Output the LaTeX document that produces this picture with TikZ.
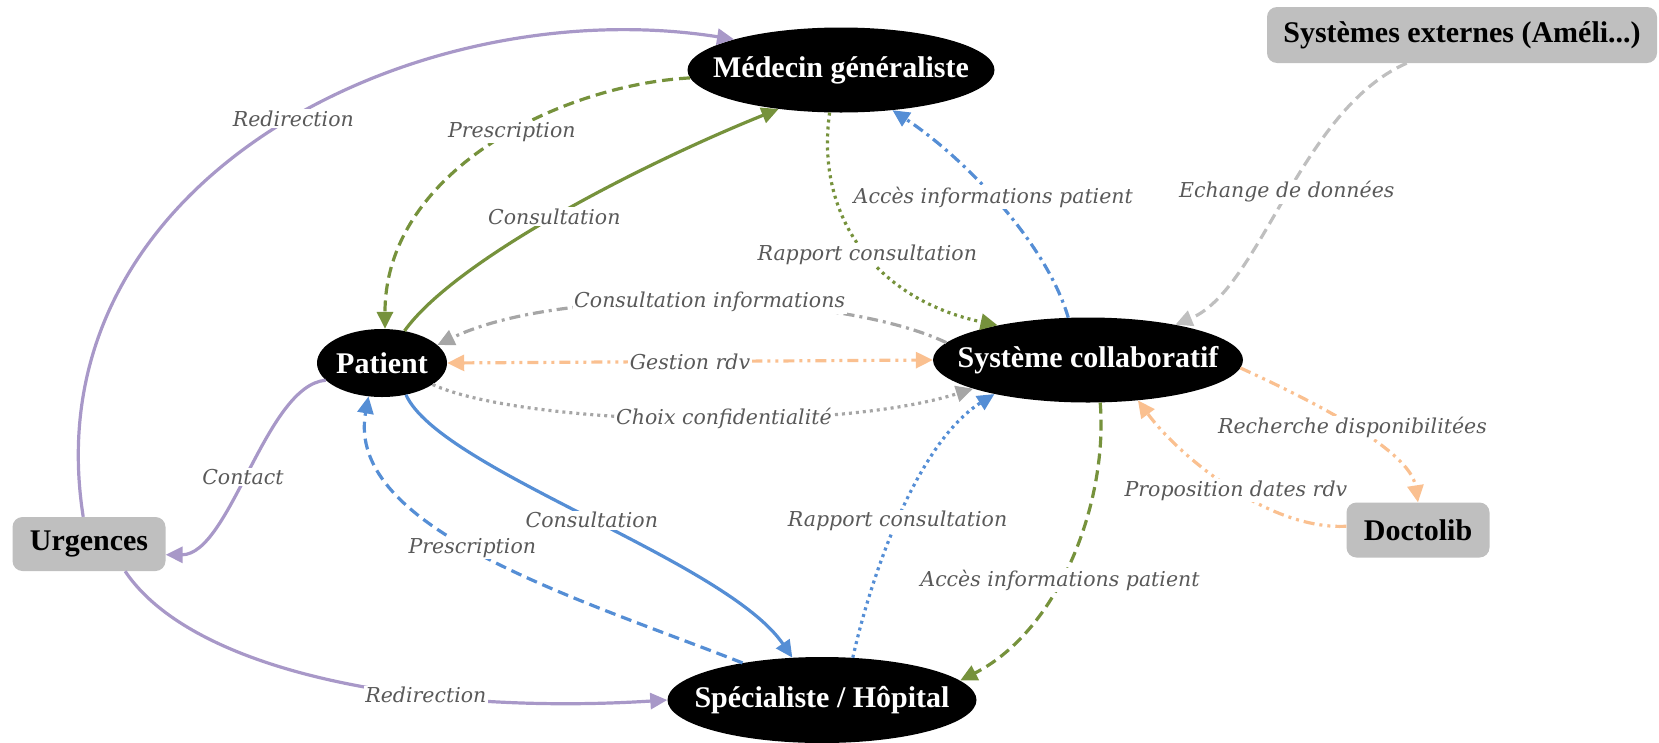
\documentclass[tikz,border=0pt]{standalone}
\usepackage{fontspec}
\setmainfont{Liberation Serif}
\newfontfamily\linkfont{DejaVu Serif}
\usetikzlibrary{arrows.meta, shapes.geometric}

\definecolor{linkpurple}{RGB}{168,152,200}
\definecolor{linkgreen}{RGB}{118,146,60}
\definecolor{linkblue}{RGB}{85,142,213}
\definecolor{linkgray}{RGB}{166,166,166}
\definecolor{linklight}{RGB}{191,191,191}
\definecolor{linkorange}{RGB}{250,192,144}
\definecolor{boxgray}{RGB}{191,191,191}
\definecolor{textgray}{RGB}{89,89,89}

% text of an oval node, kept out of the oval size
\newcommand{\OvalText}[1]{\makebox[0pt]{#1}}

\tikzset{
	mainnode/.style={ellipse, fill=black, text=white, inner sep=0pt, minimum width=#1, minimum height=85pt, font=\fontsize{30}{30}\selectfont\bfseries},
	sidenode/.style={rectangle, rounded corners=10pt, fill=boxgray, text=black, inner sep=0pt, minimum width=#1, minimum height=55pt, font=\fontsize{30}{30}\selectfont\bfseries},
	linklabel/.style={fill=white, text=textgray, inner sep=1.5pt, font=\linkfont\itshape\fontsize{20.5}{20.5}\selectfont},
	link/.style={line width=3.2pt, -{Triangle[length=17pt,width=16pt]}},
	dashline/.style={dash pattern=on 11pt off 6pt},
	dotline/.style={dash pattern=on 3pt off 4pt},
	dashdotline/.style={dash pattern=on 11pt off 5pt on 3pt off 5pt},
	dashdotdotline/.style={dash pattern=on 11pt off 5pt on 3pt off 5pt on 3pt off 5pt},
}

\begin{document}
\begin{tikzpicture}[x=1pt, y=-1pt]
\useasboundingbox (0,0) rectangle (1659,742);

% Draw nodes
\node[mainnode=307pt] (medecin) at (841,70) {\OvalText{Médecin généraliste}};
\node[mainnode=130pt, minimum height=68pt] (patient) at (382,363) {\OvalText{Patient}};
\node[mainnode=310pt] (syscol) at (1088,360) {\OvalText{Système collaboratif}};
\node[mainnode=309pt, minimum height=86pt] (specialiste) at (822,700) {\OvalText{Spécialiste / Hôpital}};
\node[sidenode=390pt, minimum height=56pt] (externes) at (1462,35) {Systèmes externes (Améli...)};
\node[sidenode=143pt] (doctolib) at (1418,530) {Doctolib};
\node[sidenode=153pt, minimum height=54pt] (urgences) at (89,544) {Urgences};

% Urgences links
\draw[link, linkpurple] (urgences.102) .. controls +(-53,-337) and +(-318,-50) .. (medecin.164) node[linklabel, pos=0.53]{Redirection};
\draw[link, linkpurple] (urgences.323) .. controls +(70,104) and +(-237.5,15) .. (specialiste.west) node[linklabel, pos=0.65]{Redirection};
\draw[link, linkpurple] (patient.197) .. controls +(-60,5) and +(64.5,0) .. (urgences.352) node[linklabel, pos=0.53]{Contact};

% Medecin links
\draw[link, linkgreen, dashline] (medecin.183) .. controls +(-128,7) and +(0,-159) .. (patient.85) node[linklabel, pos=0.44]{Prescription};
\draw[link, linkgreen] (patient.55) .. controls +(51,-71) and +(-139,56) .. (medecin.212) node[linklabel, pos=0.49]{Consultation};
\draw[link, linkgreen, dotline] (medecin.255) .. controls +(-15,108) and +(-118,-25) .. (syscol.159) node[linklabel, pos=0.52]{Rapport consultation};
\draw[link, linkblue, dashdotline] (syscol.115) .. controls +(-23,-78) and +(68,45) .. (medecin.322) node[linklabel, pos=0.52]{Accès informations patient};

% Systeme links
\draw[link, linklight, dashline] (externes.207) .. controls +(-107,47) and +(85,-35) .. (syscol.22) node[linklabel, pos=0.48]{Echange de données};
\draw[link, linkgray, dashdotline] (syscol.173) .. controls +(-107,-51) and +(123,-60) .. (patient.18) node[linklabel, pos=0.48]{Consultation informations};
\draw[link, linkorange, dashdotdotline, {Triangle[length=17pt,width=16pt]}-{Triangle[length=17pt,width=16pt]}] (patient.east) -- (syscol.west) node[linklabel, pos=0.5]{Gestion rdv};
\draw[link, linkgray, dotline] (patient.337) .. controls +(87,40) and +(-142,45) .. (syscol.194) node[linklabel, pos=0.565]{Choix confidentialité};

% Specialiste links
\draw[link, linkblue] (patient.307) .. controls +(34,75) and +(-67,-98) .. (specialiste.125) node[linklabel, pos=0.51]{Consultation};
\draw[link, linkblue, dashline] (specialiste.155) .. controls +(-162,-64) and +(-24,133) .. (patient.248) node[linklabel, pos=0.53]{Prescription};
\draw[link, linkblue, dotline] (specialiste.54) .. controls +(22,-97) and +(-73,46) .. (syscol.200) node[linklabel, pos=0.45]{Rapport consultation};
\draw[link, linkgreen, dashline] (syscol.286) .. controls +(8,98) and +(100,-51) .. (specialiste.8) node[linklabel, pos=0.57]{Accès informations patient};

% Doctolib links
\draw[link, linkorange, dashdotdotline] (syscol.357) .. controls +(70,32) and +(-8,-52.5) .. (doctolib.north) node[linklabel, pos=0.5]{Recherche disponibilitées};
\draw[link, linkorange, dashdotdotline] (doctolib.177) .. controls +(-76.5,4) and +(42,57) .. (syscol.321) node[linklabel, pos=0.47]{Proposition dates rdv};
\end{tikzpicture}
\end{document}
